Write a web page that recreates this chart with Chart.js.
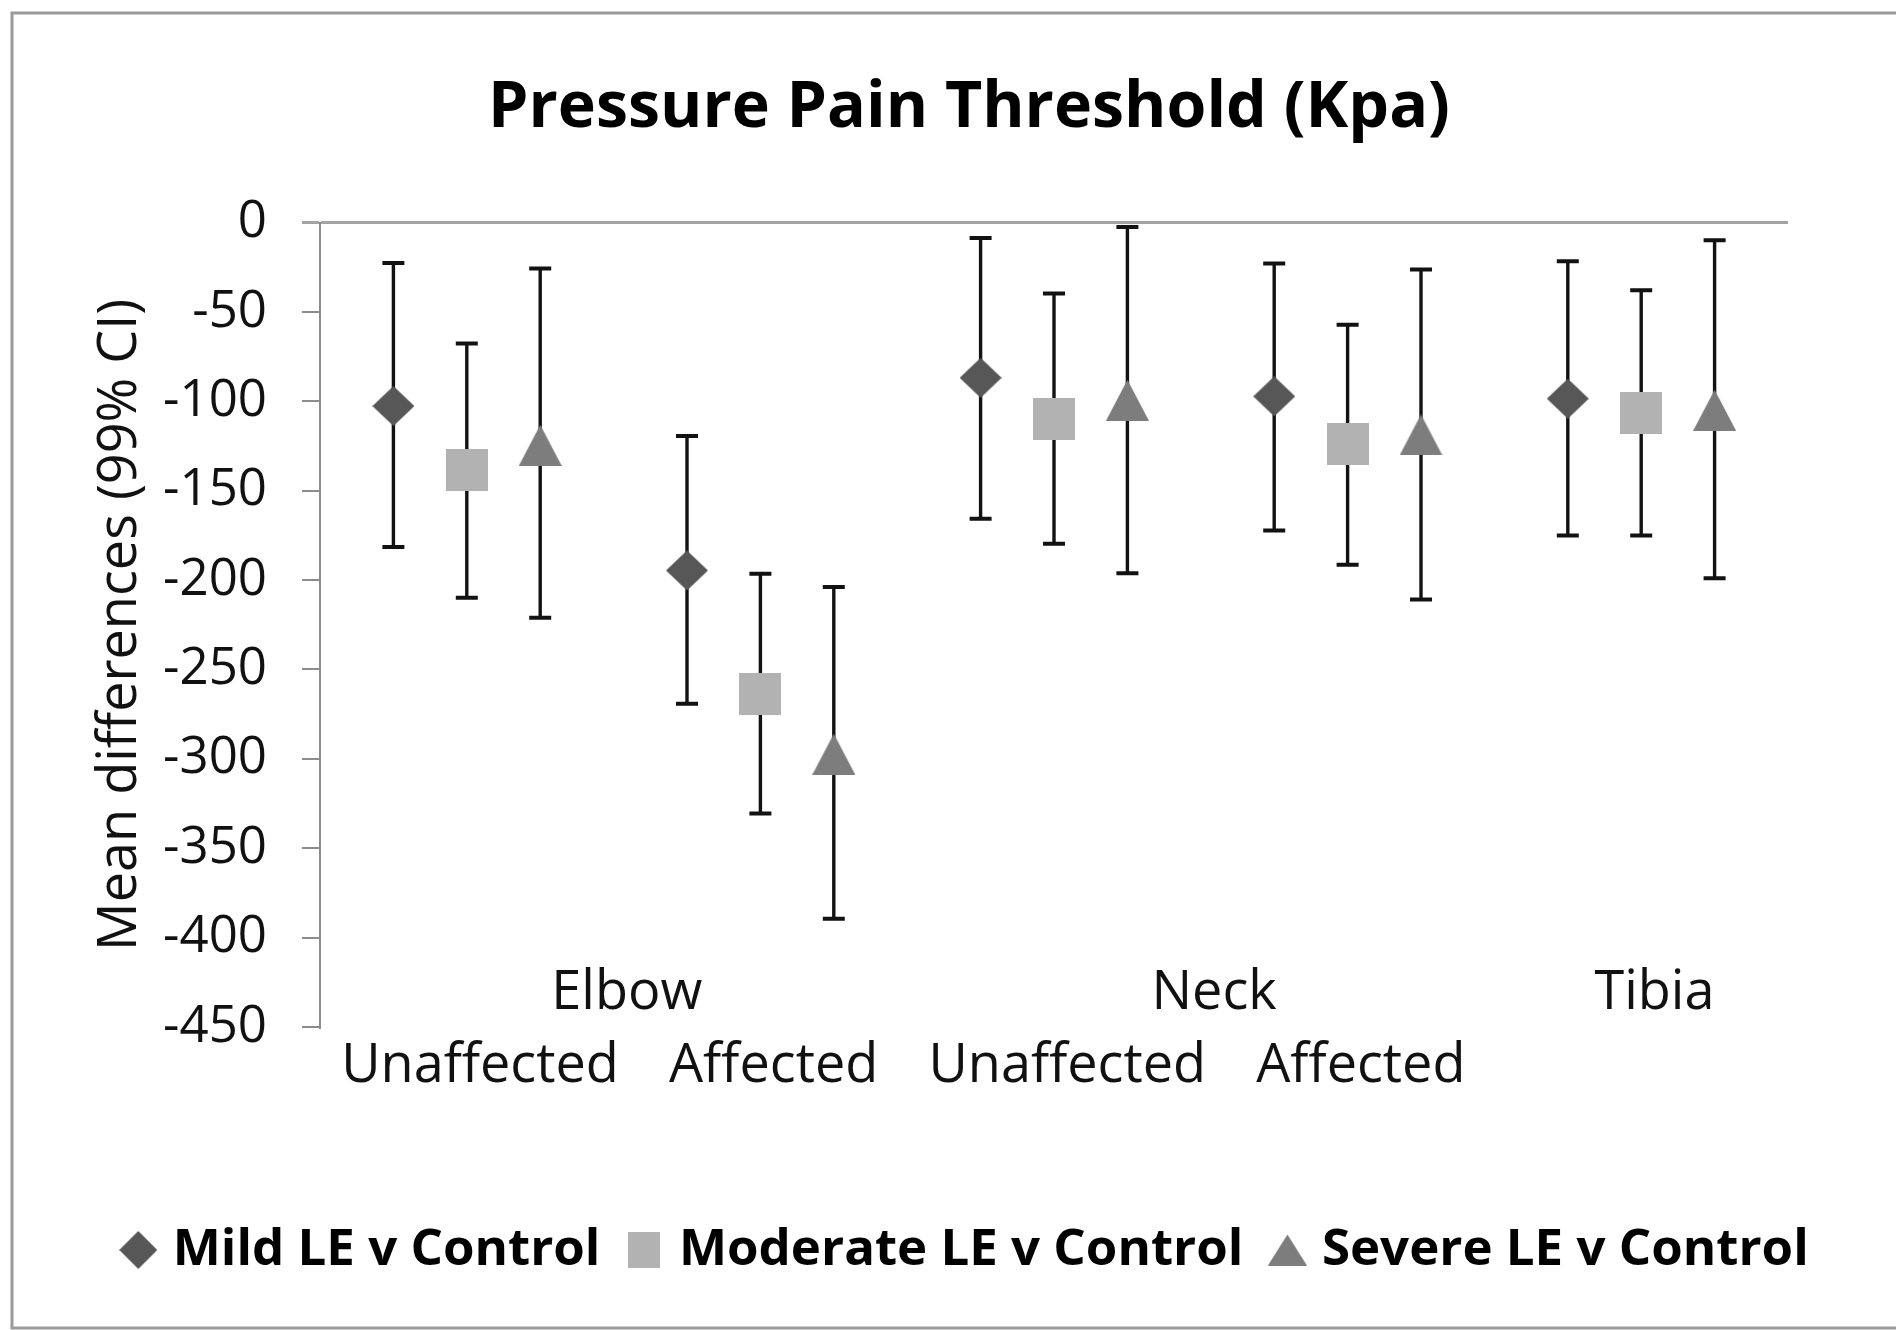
<!DOCTYPE html>
<html>
<head>
<meta charset="utf-8">
<script src="https://cdn.jsdelivr.net/npm/chart.js@4.4.1/dist/chart.umd.min.js"></script>
<style>
  html, body { margin: 0; padding: 0; background: #ffffff; }
  #wrap { width: 1896px; height: 1330px; }
</style>
</head>
<body>
<div id="wrap"><canvas id="c" width="1896" height="1330"></canvas></div>
<script>
// ---------------- data ----------------
const categories = ['Elbow Unaffected', 'Elbow Affected', 'Neck Unaffected', 'Neck Affected', 'Tibia'];
const subLabels = ['Unaffected', 'Affected', 'Unaffected', 'Affected', ''];
const groupLabels = ['Elbow', 'Neck', 'Tibia'];
const groupFirst = [0, 2, 4];
const groupLast = [1, 3, 4];

const seriesNames = ['Mild LE v Control', 'Moderate LE v Control', 'Severe LE v Control'];

const mildMean = [-102.6, -194.6, -86.8, -97.2, -98.5];
const mildLow  = [-181.5, -269.1, -165.7, -172.2, -175.0];
const mildHigh = [-22.6, -119.4, -8.6, -22.9, -21.6];

const moderateMean = [-138.6, -263.5, -109.9, -124.1, -106.3];
const moderateLow  = [-209.9, -330.6, -179.7, -191.4, -175.0];
const moderateHigh = [-67.7, -196.5, -39.7, -57.1, -37.9];

const severeMean = [-124.6, -297.4, -99.4, -118.8, -105.0];
const severeLow  = [-221.0, -389.4, -196.1, -210.8, -198.9];
const severeHigh = [-25.7, -203.9, -2.4, -26.3, -9.9];

const yTicks = [0, -50, -100, -150, -200, -250, -300, -350, -400, -450];

// ---------------- styling ----------------
const seriesOffset = [-0.25, 0, 0.25];      // position inside a category (in category units)
const seriesColors = ['#575757', '#b2b2b2', '#7d7d7d'];
const FONT = '"Open Sans", "Noto Sans", sans-serif';

function makeMarker(shape, w, h, color) {
  const cv = document.createElement('canvas');
  cv.width = w; cv.height = h;
  const g = cv.getContext('2d');
  g.fillStyle = color;
  g.beginPath();
  if (shape === 'diamond') {
    g.moveTo(w / 2, 0); g.lineTo(w, h / 2); g.lineTo(w / 2, h); g.lineTo(0, h / 2);
  } else if (shape === 'square') {
    g.rect(0, 0, w, h);
  } else {
    g.moveTo(w / 2, 0); g.lineTo(w, h); g.lineTo(0, h);
  }
  g.closePath();
  g.fill();
  return cv;
}

const plotMarkers = [
  makeMarker('diamond', 42, 40, seriesColors[0]),
  makeMarker('square', 42, 42, seriesColors[1]),
  makeMarker('triangle', 43, 41, seriesColors[2])
];
const legendMarkers = [
  makeMarker('diamond', 38, 38, seriesColors[0]),
  makeMarker('square', 32, 36, seriesColors[1]),
  makeMarker('triangle', 39, 31, seriesColors[2])
];

const means = [mildMean, moderateMean, severeMean];
const lows = [mildLow, moderateLow, severeLow];
const highs = [mildHigh, moderateHigh, severeHigh];

const datasets = seriesNames.map((name, s) => ({
  label: name,
  data: means[s].map((v, i) => ({ x: i + 0.5 + seriesOffset[s], y: v })),
  showLine: false,
  pointStyle: plotMarkers[s],
  pointRadius: 21,
  pointHoverRadius: 21,
  backgroundColor: seriesColors[s],
  borderColor: seriesColors[s],
  xAxisID: 'x',
  yAxisID: 'y'
}));

// ---------------- plugins ----------------
const frame = {
  id: 'frame',
  beforeDraw(chart) {
    const c = chart.ctx;
    c.save();
    c.fillStyle = '#ffffff';
    c.fillRect(0, 0, chart.width, chart.height);
    c.strokeStyle = '#9a9a9a';
    c.lineWidth = 3;
    c.strokeRect(12, 13, chart.width + 20, 1315);
    c.restore();
  }
};

const errorBars = {
  id: 'errorBars',
  beforeDatasetsDraw(chart) {
    const c = chart.ctx;
    const ys = chart.scales.y;
    c.save();
    c.strokeStyle = '#121212';
    c.lineCap = 'butt';
    chart.data.datasets.forEach((ds, s) => {
      const meta = chart.getDatasetMeta(s);
      meta.data.forEach((pt, i) => {
        const x = pt.x;
        const yl = ys.getPixelForValue(lows[s][i]);
        const yh = ys.getPixelForValue(highs[s][i]);
        c.lineWidth = 3.4;
        c.beginPath();
        c.moveTo(x, yl); c.lineTo(x, yh);
        c.stroke();
        c.lineWidth = 4;
        c.beginPath();
        c.moveTo(x - 11, yl); c.lineTo(x + 11, yl);
        c.moveTo(x - 11, yh); c.lineTo(x + 11, yh);
        c.stroke();
      });
    });
    c.restore();
  }
};

const catLabels = {
  id: 'catLabels',
  afterDraw(chart) {
    const c = chart.ctx;
    const xs = chart.scales.x;
    const area = chart.chartArea;
    const shift = 0.045;
    c.save();
    c.font = '54px ' + FONT;
    c.fillStyle = '#111111';
    c.textAlign = 'center';
    c.textBaseline = 'alphabetic';
    subLabels.forEach((t, i) => {
      if (!t) return;
      c.fillText(t, xs.getPixelForValue(i + 0.5 + shift), area.bottom + 55);
    });
    groupLabels.forEach((t, g) => {
      const mid = (groupFirst[g] + groupLast[g]) / 2 + 0.5 + shift;
      c.fillText(t, xs.getPixelForValue(mid), area.bottom - 18);
    });
    c.restore();
  }
};

function build() {
  Chart.defaults.font.family = FONT;
  Chart.defaults.color = '#111111';
  new Chart(document.getElementById('c'), {
    type: 'line',
    data: { datasets },
    plugins: [frame, errorBars, catLabels],
    options: {
      responsive: false,
      devicePixelRatio: 1,
      animation: false,
      events: [],
      layout: { padding: { left: 42, right: 0, top: 0, bottom: 44.5 } },
      plugins: {
        tooltip: { enabled: false },
        title: {
          display: true,
          text: 'Pressure Pain Threshold (Kpa)',
          color: '#000000',
          font: { size: 64.5, weight: 'bold', family: FONT },
          padding: { top: 70, bottom: 75.2 }
        },
        legend: {
          display: true,
          position: 'bottom',
          labels: {
            usePointStyle: true,
            pointStyleWidth: 18,
            padding: 35,
            color: '#000000',
            font: { size: 51, weight: 'bold', family: FONT },
            generateLabels(chart) {
              const items = Chart.defaults.plugins.legend.labels.generateLabels(chart);
              items.forEach((it, i) => { it.pointStyle = legendMarkers[i]; });
              return items;
            }
          }
        }
      },
      scales: {
        x: {
          type: 'linear',
          position: 'bottom',
          min: 0,
          max: categories.length,
          display: true,
          ticks: { display: false },
          grid: { display: false },
          border: { display: false },
          afterFit(s) { s.height = 162.5; }
        },
        y: {
          type: 'linear',
          position: 'left',
          min: -450,
          max: 0,
          afterBuildTicks(s) { s.ticks = yTicks.map(v => ({ value: v })); },
          ticks: {
            padding: 35,
            color: '#111111',
            font: { size: 51, family: FONT },
            callback: (v) => String(v)
          },
          grid: {
            drawOnChartArea: true,
            drawTicks: true,
            tickLength: 18,
            color: (ctx) => (ctx.tick && ctx.tick.value === 0) ? '#a3a3a3' : 'rgba(0,0,0,0)',
            lineWidth: (ctx) => (ctx.tick && ctx.tick.value === 0) ? 3 : 2,
            tickColor: (ctx) => (ctx.tick && ctx.tick.value === 0) ? '#a3a3a3' : '#8c8c8c',
            tickWidth: (ctx) => (ctx.tick && ctx.tick.value === 0) ? 3 : 2
          },
          border: { display: true, color: '#8c8c8c', width: 2 },
          title: {
            display: true,
            text: 'Mean differences (99% CI)',
            color: '#111111',
            font: { size: 54, family: FONT },
            padding: { top: 46, bottom: 0 }
          },
          afterFit(s) { s.width = 278; }
        },
        y2: {
          type: 'linear',
          position: 'right',
          min: -450,
          max: 0,
          display: true,
          ticks: { display: false },
          grid: { display: false },
          border: { display: false },
          afterFit(s) { s.width = 108; }
        }
      }
    }
  });
}

const fontLoads = [
  document.fonts.load('49px "Open Sans"'),
  document.fonts.load('bold 63px "Open Sans"')
];
Promise.all(fontLoads).catch(() => {}).then(build);
</script>
</body>
</html>
